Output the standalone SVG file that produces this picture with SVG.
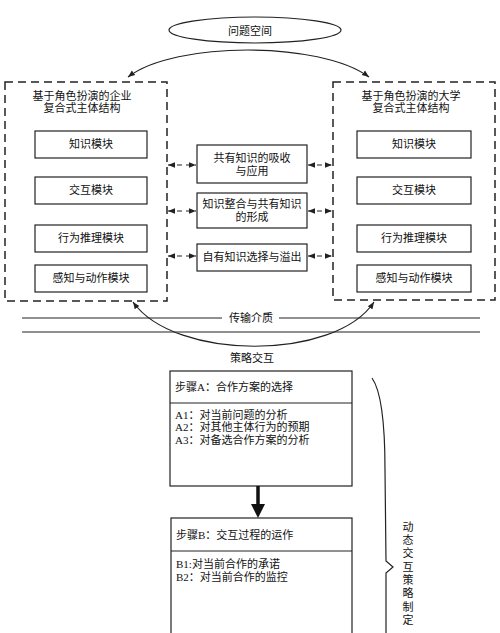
<svg xmlns="http://www.w3.org/2000/svg" width="500" height="633" viewBox="0 0 500 633">
<style>
text{font-family:"Liberation Serif","Noto Sans CJK SC",serif;font-size:11px;fill:#111;}
.c{text-anchor:middle;}
.box{fill:#fff;stroke:#222;stroke-width:1.2;}
.dash{fill:none;stroke:#222;stroke-width:1.5;stroke-dasharray:8,5;}
.con{fill:none;stroke:#222;stroke-width:1.2;}
.dcon{fill:none;stroke:#222;stroke-width:1.2;stroke-dasharray:5,4;}
</style>
<defs>
<marker id="ah" viewBox="0 0 10 10" refX="10" refY="5" markerWidth="7" markerHeight="7" orient="auto-start-reverse" markerUnits="userSpaceOnUse">
<path d="M0,1 L10,5 L0,9 Z" fill="#222"/>
</marker>
</defs>
<rect width="500" height="633" fill="#fff"/>

<g id="problem-space">
<ellipse cx="255" cy="30" rx="86" ry="13" class="box"/>
<text x="250" y="35" class="c">问题空间</text>
</g>

<g id="enterprise">
<rect x="5" y="82" width="162" height="219" class="dash"/>
<text x="82" y="100" class="c">基于角色扮演的企业</text>
<text x="82" y="112" class="c">复合式主体结构</text>
<rect x="35" y="131" width="112" height="27" class="box"/>
<text x="91" y="148" class="c">知识模块</text>
<rect x="35" y="177" width="112" height="27" class="box"/>
<text x="91" y="194" class="c">交互模块</text>
<rect x="35" y="225" width="112" height="27" class="box"/>
<text x="91" y="242" class="c">行为推理模块</text>
<rect x="35" y="265" width="112" height="27" class="box"/>
<text x="91" y="282" class="c">感知与动作模块</text>
</g>

<g id="university">
<rect x="333" y="82" width="162" height="218" class="dash"/>
<text x="411" y="100" class="c">基于角色扮演的大学</text>
<text x="411" y="112" class="c">复合式主体结构</text>
<rect x="357" y="131" width="114" height="27" class="box"/>
<text x="414" y="148" class="c">知识模块</text>
<rect x="357" y="177" width="114" height="27" class="box"/>
<text x="414" y="194" class="c">交互模块</text>
<rect x="357" y="225" width="114" height="27" class="box"/>
<text x="414" y="242" class="c">行为推理模块</text>
<rect x="357" y="265" width="114" height="27" class="box"/>
<text x="414" y="282" class="c">感知与动作模块</text>
</g>

<g id="shared-absorb">
<rect x="197" y="145" width="110" height="38" class="box"/>
<text x="252" y="162" class="c">共有知识的吸收</text>
<text x="252" y="175" class="c">与应用</text>
</g>
<g id="integration">
<rect x="197" y="193" width="110" height="35" class="box"/>
<text x="252" y="208" class="c">知识整合与共有知识</text>
<text x="252" y="221" class="c">的形成</text>
</g>
<g id="own-knowledge">
<rect x="197" y="244" width="110" height="27" class="box"/>
<text x="252" y="261" class="c">自有知识选择与溢出</text>
</g>

<g id="medium">
<line x1="22" y1="318" x2="222" y2="318" class="con"/>
<line x1="279" y1="318" x2="480" y2="318" class="con"/>
<line x1="22" y1="332" x2="480" y2="332" class="con"/>
<text x="251" y="322" class="c">传输介质</text>
</g>

<g id="strategy-label">
<text x="252" y="362" class="c">策略交互</text>
</g>

<g id="stepA">
<rect x="170" y="371" width="182" height="115" class="box"/>
<line x1="170" y1="403" x2="352" y2="403" class="con"/>
<text x="175" y="391">步骤A：合作方案的选择</text>
<text x="175" y="419">A1：对当前问题的分析</text>
<text x="175" y="431">A2：对其他主体行为的预期</text>
<text x="175" y="444">A3：对备选合作方案的分析</text>
</g>

<g id="stepB">
<rect x="171" y="518" width="181" height="130" class="box"/>
<line x1="171" y1="551" x2="352" y2="551" class="con"/>
<text x="176" y="539">步骤B：交互过程的运作</text>
<text x="176" y="568">B1:对当前合作的承诺</text>
<text x="176" y="581">B2：对当前合作的监控</text>
</g>

<g id="framework">
<path d="M372,378 C382,392 385,430 385,470 L386,561 L393,567 L386,573 L386,640" class="con"/>
<text x="408" y="531" class="c">动</text>
<text x="408" y="544" class="c">态</text>
<text x="408" y="557" class="c">交</text>
<text x="408" y="571" class="c">互</text>
<text x="408" y="584" class="c">策</text>
<text x="408" y="597" class="c">略</text>
<text x="408" y="611" class="c">制</text>
<text x="408" y="624" class="c">定</text>
</g>

<g id="connectors">
<path d="M128,77 C175,41 320,41 369,77" class="con" marker-start="url(#ah)" marker-end="url(#ah)"/>
<path d="M133,302 C175,361 335,361 374,302" class="con" marker-start="url(#ah)" marker-end="url(#ah)"/>
<line x1="168" y1="165" x2="196" y2="165" class="dcon" marker-start="url(#ah)" marker-end="url(#ah)"/>
<line x1="168" y1="211" x2="196" y2="211" class="dcon" marker-start="url(#ah)" marker-end="url(#ah)"/>
<line x1="168" y1="256" x2="196" y2="256" class="dcon" marker-start="url(#ah)" marker-end="url(#ah)"/>
<line x1="308" y1="165" x2="332" y2="165" class="dcon" marker-start="url(#ah)" marker-end="url(#ah)"/>
<line x1="308" y1="211" x2="332" y2="211" class="dcon" marker-start="url(#ah)" marker-end="url(#ah)"/>
<line x1="308" y1="256" x2="332" y2="256" class="dcon" marker-start="url(#ah)" marker-end="url(#ah)"/>
<line x1="258" y1="486" x2="258" y2="506" stroke="#111" stroke-width="3.5"/>
<polygon points="251,504 265,504 258,518" fill="#111"/>
</g>
</svg>
